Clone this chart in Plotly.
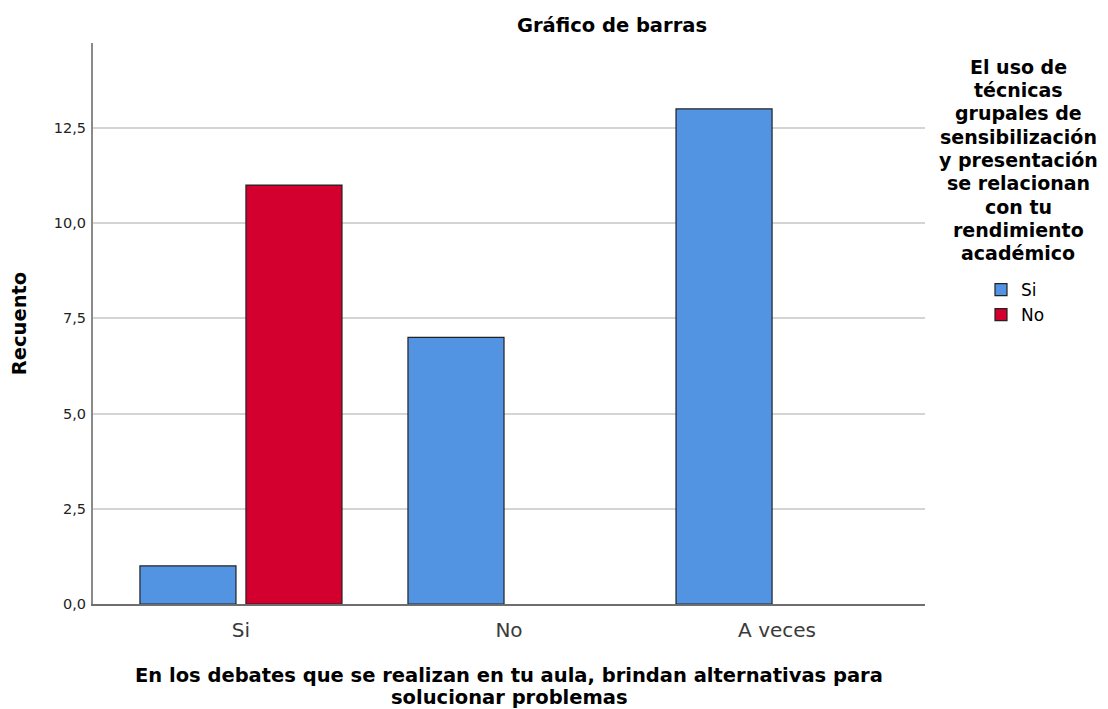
import plotly.graph_objects as go

categories = ["Si", "No", "A veces"]
series_names = ["Si", "No"]
values_si = [1, 7, 13]
values_no = [11, 0, 0]
y_ticks = [0, 2.5, 5, 7.5, 10, 12.5]
y_tick_labels = ["0,0", "2,5", "5,0", "7,5", "10,0", "12,5"]
legend_title_lines = ["El uso de", "técnicas", "grupales de", "sensibilización",
                      "y presentación", "se relacionan", "con tu", "rendimiento",
                      "académico"]
x_title_lines = ["En los debates que se realizan en tu aula, brindan alternativas para",
                 "solucionar problemas"]
chart_title = "Gráfico de barras"
y_title = "Recuento"

# page has an 8px body margin; work in page pixel coordinates
OFF = 8
W, H = 1108 - OFF, 709 - OFF
ML, MR, MT, MB = 93 - OFF, 1108 - 925, 43 - OFF, 709 - 604
PW, PH = W - ML - MR, H - MT - MB

def px_x(x):
    return (x - OFF - ML) / PW

def px_y(y):
    return (H - MB - (y - OFF)) / PH

FONT = "DejaVu Sans"
colors = ["#5294E2", "#D3002F"]

fig = go.Figure()
for name, vals, col in zip(series_names, [values_si, values_no], colors):
    fig.add_trace(go.Bar(
        x=categories, y=vals, name=name,
        marker=dict(color=col,
                    line=dict(color="#222222",
                              width=[1.2 if v > 0 else 0 for v in vals])),
    ))

annotations = []
for i, line in enumerate(legend_title_lines):
    annotations.append(dict(
        text=f"<b>{line}</b>", xref="paper", yref="paper",
        x=px_x(1018), y=px_y(66.7 + 23.3 * i), xanchor="center", yanchor="middle",
        showarrow=False, font=dict(family=FONT, size=19, color="#000000"),
    ))
for i, line in enumerate(x_title_lines):
    annotations.append(dict(
        text=f"<b>{line}</b>", xref="paper", yref="paper",
        x=px_x(509), y=px_y(675 + 22 * i), xanchor="center", yanchor="middle",
        showarrow=False, font=dict(family=FONT, size=19.5, color="#000000"),
    ))

fig.update_layout(
    width=W, height=H,
    margin=dict(l=ML, r=MR, t=MT, b=MB, autoexpand=False),
    paper_bgcolor="white", plot_bgcolor="white",
    barmode="group", bargap=0.209, bargroupgap=0.094,
    title=dict(text=f"<b>{chart_title}</b>", x=(612 - OFF) / W, xanchor="center",
               y=1 - (25 - OFF) / H, yanchor="middle",
               font=dict(family=FONT, size=19.5, color="#000000")),
    showlegend=True,
    legend=dict(x=px_x(981), y=px_y(272), xanchor="left", yanchor="top",
                font=dict(family=FONT, size=17, color="#000000"),
                bgcolor="rgba(0,0,0,0)", itemwidth=30, tracegroupgap=0),
    annotations=annotations,
    xaxis=dict(
        range=[-0.552, 2.552], showgrid=False, zeroline=False,
        showline=True, linecolor="#6e6e6e", linewidth=2,
        ticks="", ticklabelstandoff=7,
        tickfont=dict(family=FONT, size=20, color="#3a3a3a"),
    ),
    yaxis=dict(
        range=[0, 14.73], tickvals=y_ticks, ticktext=y_tick_labels,
        showgrid=True, gridcolor="#d4d4d4", gridwidth=2,
        zeroline=False, showline=True, linecolor="#8a8a8a", linewidth=2,
        ticks="", ticklabelstandoff=2,
        tickfont=dict(family=FONT, size=14.5, color="#222222"),
        title=dict(text=f"<b>{y_title}</b>", standoff=22,
                   font=dict(family=FONT, size=19.5, color="#000000")),
    ),
)

fig.write_html("out.html")
